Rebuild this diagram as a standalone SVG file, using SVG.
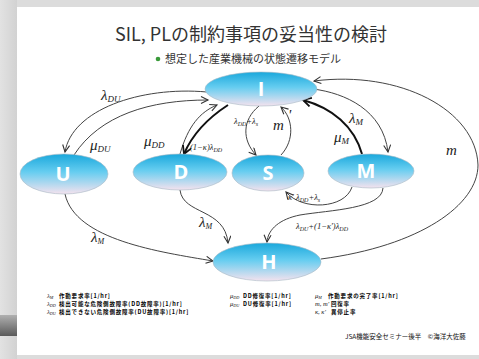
<svg xmlns="http://www.w3.org/2000/svg" width="479" height="359" viewBox="0 0 479 359">
<defs>
<linearGradient id="bgL" x1="0" y1="0" x2="1" y2="0">
<stop offset="0" stop-color="#e2e2e2"/><stop offset="1" stop-color="#d2d2d2"/>
</linearGradient>
<linearGradient id="bar" x1="0" y1="0" x2="0" y2="1">
<stop offset="0" stop-color="#b0b0b0"/><stop offset="1" stop-color="#5a5a5a"/>
</linearGradient>
<linearGradient id="node" x1="0" y1="0" x2="0" y2="1">
<stop offset="0" stop-color="#1aa8dc"/><stop offset="0.45" stop-color="#66cdf0"/><stop offset="1" stop-color="#f4e2ee"/>
</linearGradient>
<marker id="a" markerWidth="10" markerHeight="10" refX="8" refY="4" orient="auto" markerUnits="userSpaceOnUse">
<path d="M1,0.5 L8,4 L1,7.5" fill="none" stroke="#333" stroke-width="1.1"/>
</marker>
<marker id="ab" markerWidth="12" markerHeight="12" refX="9" refY="5" orient="auto" markerUnits="userSpaceOnUse">
<path d="M1,0.5 L9,5 L1,9.5" fill="none" stroke="#111" stroke-width="1.8"/>
</marker>
</defs>
<style>
.title{font-family:"Noto Sans CJK JP","Liberation Sans",sans-serif;font-size:18px;fill:#333}
.sub{font-family:"Noto Sans CJK JP",sans-serif;font-size:11px;fill:#333}
.nd{fill:url(#node);stroke:#a8b8c4;stroke-width:0.6}
.lt{font-family:"Open Sans","Liberation Sans",sans-serif;font-weight:bold;font-size:20px;fill:#fff;text-anchor:middle}
.c{fill:none;stroke:#444;stroke-width:1;marker-end:url(#a)}
.cb{fill:none;stroke:#111;stroke-width:2;marker-end:url(#ab)}
.lb{font-family:"Liberation Serif",serif;font-style:italic;font-size:15px;fill:#222}
.ls{font-family:"Liberation Serif",serif;font-style:italic;font-size:8.5px;fill:#222}
.lg{font-family:"Noto Sans CJK JP",sans-serif;font-size:5.5px;letter-spacing:0.8px;font-weight:bold;fill:#000}
.sy{font-family:"Liberation Serif",serif;font-style:italic;font-size:6.5px;fill:#111}
.ft{font-family:"Noto Sans CJK JP",sans-serif;font-size:6.5px;fill:#111}
</style>
<rect x="0" y="0" width="479" height="359" fill="#dcdcdc"/>
<rect x="0" y="0" width="17" height="359" fill="url(#bgL)"/>
<rect x="0" y="315" width="17" height="21" fill="url(#bar)"/>
<rect x="17" y="7" width="462" height="348" fill="#fff"/>

<text class="title" x="251" y="41" text-anchor="middle">SIL, PLの制約事項の妥当性の検討</text>
<circle cx="158" cy="59" r="2.3" fill="#3a9a3a"/>
<text class="sub" x="165" y="63">想定した産業機械の状態遷移モデル</text>

<g id="connectors">
<path class="c" d="M207,92 C140,86 72,110 65,152"/>
<path class="c" d="M74,155 C100,115 150,100 208,100"/>
<path class="c" d="M180,154 C188,126 200,112 217,105"/>
<path class="cb" d="M228,105 C208,118 192,135 184,154"/>
<path class="c" d="M259,106 C242,120 242,140 256,155"/>
<path class="c" d="M281,155 C295,140 293,118 281,107"/>
<path class="cb" d="M362,154 C354,126 332,108 303,100"/>
<path class="c" d="M313,89 C345,93 383,110 388,152"/>
<path class="c" d="M321,259 C420,246 478,205 478,165 C476,110 400,70 314,81"/>
<path class="c" d="M352,187 C345,209 302,211 286,192"/>
<path class="c" d="M383,188 C382,209 330,210 300,215 C280,219 268,229 267,242"/>
<path class="c" d="M180,190 C183,215 225,208 228,243"/>
<path class="c" d="M65,194 C75,240 160,252 213,261"/>
</g>

<g id="labels">
<text class="lb" x="101" y="100">λ<tspan font-size="9" dy="2">DU</tspan></text>
<text class="lb" x="90" y="150">μ<tspan font-size="9" dy="2">DU</tspan></text>
<text class="lb" x="144" y="146">μ<tspan font-size="9" dy="2">DD</tspan></text>
<text class="ls" x="190" y="150">(1−κ)λ<tspan font-size="6" dy="1.5">DD</tspan></text>
<text class="ls" x="234" y="124">λ<tspan font-size="6" dy="1.5">DD</tspan><tspan dy="-1.5">+λ</tspan><tspan font-size="6" dy="1.5">s</tspan></text>
<text class="lb" x="273" y="130">m</text>
<text class="lb" x="288" y="120" font-size="11">'</text>
<text class="lb" x="349" y="123">λ<tspan font-size="9" dy="2">M</tspan></text>
<text class="lb" x="334" y="142">μ<tspan font-size="9" dy="2">M</tspan></text>
<text class="lb" x="446" y="155">m</text>
<text class="ls" x="288" y="200">κ' λ<tspan font-size="6" dy="1.5">DD</tspan><tspan dy="-1.5">+λ</tspan><tspan font-size="6" dy="1.5">s</tspan></text>
<text class="ls" x="296" y="229">λ<tspan font-size="6" dy="1.5">DU</tspan><tspan dy="-1.5">+(1−κ')λ</tspan><tspan font-size="6" dy="1.5">DD</tspan></text>
<text class="lb" x="199" y="227" font-size="13">λ<tspan font-size="8" dy="2">M</tspan></text>
<text class="lb" x="91" y="242" font-size="13">λ<tspan font-size="8" dy="2">M</tspan></text>
</g>

<g id="node-I"><ellipse class="nd" cx="261" cy="89" rx="56" ry="17"/><text class="lt" x="261" y="96">I</text></g>
<g id="node-U"><ellipse class="nd" cx="64" cy="174" rx="44" ry="20"/><text class="lt" x="63" y="181">U</text></g>
<g id="node-D"><ellipse class="nd" cx="180" cy="172" rx="47" ry="18"/><text class="lt" x="181" y="179">D</text></g>
<g id="node-S"><ellipse class="nd" cx="268" cy="173" rx="36" ry="18"/><text class="lt" x="268" y="180">S</text></g>
<g id="node-M"><ellipse class="nd" cx="371" cy="171" rx="43" ry="17"/><text class="lt" x="366" y="178">M</text></g>
<g id="node-H"><ellipse class="nd" cx="267" cy="262" rx="54" ry="19"/><text class="lt" x="269" y="269">H</text></g>

<g id="legend">
<text class="sy" x="47" y="298">λ<tspan font-size="4.2" dy="1">M</tspan></text>
<text class="lg" x="59" y="298">作動要求率[1/hr]</text>
<text class="sy" x="47" y="306">λ<tspan font-size="4.2" dy="1">DD</tspan></text>
<text class="lg" x="59" y="306">検出可能な危険側故障率(DD故障率)[1/hr]</text>
<text class="sy" x="47" y="314">λ<tspan font-size="4.2" dy="1">DU</tspan></text>
<text class="lg" x="59" y="314">検出できない危険側故障率(DU故障率)[1/hr]</text>
<text class="sy" x="230" y="298">μ<tspan font-size="4.2" dy="1">DD</tspan></text>
<text class="lg" x="243" y="298">DD修復率[1/hr]</text>
<text class="sy" x="230" y="306">μ<tspan font-size="4.2" dy="1">DU</tspan></text>
<text class="lg" x="243" y="306">DU修復率[1/hr]</text>
<text class="sy" x="315" y="298">μ<tspan font-size="4.2" dy="1">M</tspan></text>
<text class="lg" x="328" y="298">作動要求の完了率[1/hr]</text>
<text class="sy" x="315" y="306">m, m'</text>
<text class="lg" x="331" y="306">回復率</text>
<text class="sy" x="315" y="314">κ, κ'</text>
<text class="lg" x="331" y="314">異停止率</text>
<text class="ft" x="345" y="339">JSA機能安全セミナー後半　©海洋大佐藤</text>
</g>
</svg>
